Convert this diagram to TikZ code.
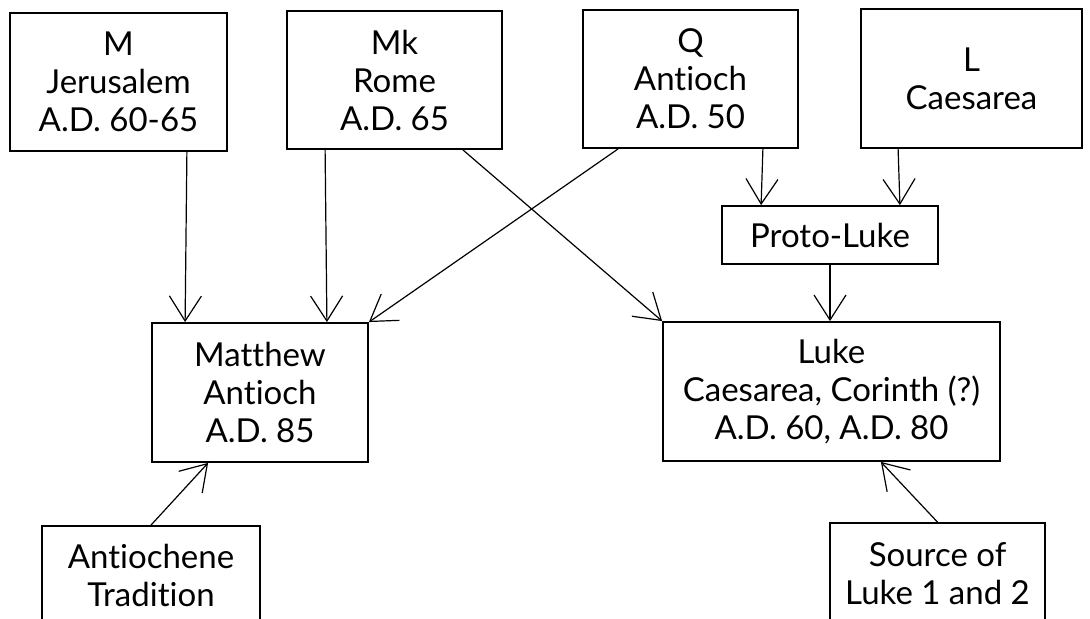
\documentclass[tikz,border=0pt]{standalone}
\usepackage{fontspec}
\setmainfont{Lato}[Ligatures={NoCommon}]
\usetikzlibrary{arrows.meta}

\begin{document}
\begin{tikzpicture}
[x=.5pt,y=-.5pt,
 box/.style={draw,line width=.9pt,align=center,inner sep=0pt,
   font=\fontsize{16.5}{19}\selectfont},
 arr/.style={line width=.6pt,-{Straight Barb[length=12.5pt,width=16pt,line width=.6pt]}}]
\useasboundingbox (0,0) rectangle (1090,619);

% sources
\node[box,minimum width=108.5pt,minimum height=69pt] (M) at (118.5,82) {M\\Jerusalem\\A.D. 60-65};
\node[box,minimum width=107.5pt,minimum height=69pt] (Mk) at (394.5,80) {Mk\\Rome\\A.D. 65};
\node[box,minimum width=107.5pt,minimum height=69pt] (Q) at (690.5,79) {Q\\Antioch\\A.D. 50};
\node[box,minimum width=110.5pt,minimum height=69.5pt] (L) at (971.5,78.5) {L\\Caesarea};
\node[box,minimum width=108pt,minimum height=29pt] (PL) at (830,235) {Proto-Luke};

% gospels
\node[box,minimum width=108pt,minimum height=69.5pt] (Mt) at (260,392.5) {Matthew\\Antioch\\A.D. 85};
\node[box,minimum width=168.5pt,minimum height=69.5pt] (Lk) at (831.5,391.5) {Luke\\Caesarea, Corinth (?)\\A.D. 60, A.D. 80};

\node[box,minimum width=109pt,minimum height=49pt] (AT) at (151,575) {Antiochene\\Tradition};
\node[box,minimum width=107.5pt,minimum height=51pt] (SL) at (937.5,574) {Source of\\Luke 1 and 2};

\draw[arr] ([xshift=-20.5pt]M.south east) -- ([xshift=17pt]Mt.north west);
\draw[arr] ([xshift=19.5pt]Mk.south west) -- ([xshift=-21pt]Mt.north east);
\draw[arr] ([xshift=18pt]Q.south west) -- (Mt.north east);
\draw[arr] ([xshift=-20pt]Mk.south east) -- (Lk.north west);
\draw[arr] ([xshift=-18pt]Q.south east) -- ([xshift=20pt]PL.north west);
\draw[arr] ([xshift=19pt]L.south west) -- ([xshift=-19.5pt]PL.north east);
\draw[arr] (PL.south) -- (PL.south |- Lk.north);
\draw[arr] (AT.north) -- ([xshift=28.5pt]Mt.south west);
\draw[arr] (SL.north) -- ([xshift=-60pt]Lk.south east);
\end{tikzpicture}
\end{document}
